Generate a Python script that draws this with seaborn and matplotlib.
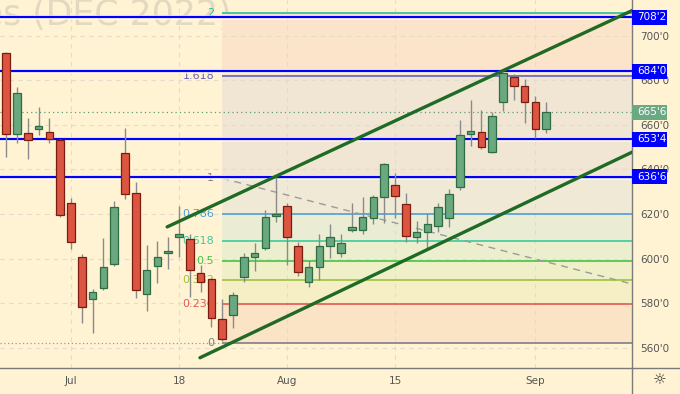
import numpy as np
import pandas as pd
import matplotlib
matplotlib.use("Agg")
import matplotlib.pyplot as plt
import seaborn as sns
from matplotlib.lines import Line2D
from matplotlib.patches import Rectangle

# ---------------- data ----------------
dates = ["Jun 23", "Jun 24", "Jun 27", "Jun 28", "Jun 29", "Jun 30",
         "Jul 1", "Jul 5", "Jul 6", "Jul 7", "Jul 8",
         "Jul 11", "Jul 12", "Jul 13", "Jul 14", "Jul 15",
         "Jul 18", "Jul 19", "Jul 20", "Jul 21", "Jul 22",
         "Jul 25", "Jul 26", "Jul 27", "Jul 28", "Jul 29",
         "Aug 1", "Aug 2", "Aug 3", "Aug 4", "Aug 5",
         "Aug 8", "Aug 9", "Aug 10", "Aug 11", "Aug 12",
         "Aug 15", "Aug 16", "Aug 17", "Aug 18", "Aug 19",
         "Aug 22", "Aug 23", "Aug 24", "Aug 25", "Aug 26",
         "Aug 29", "Aug 30", "Aug 31", "Sep 1", "Sep 2"]
opens = [692.0, 655.8, 656.3, 658.1, 656.7, 653.1,
         624.9, 600.7, 581.9, 586.9, 597.6,
         647.3, 629.4, 584.2, 596.7, 602.5,
         609.7, 608.8, 593.6, 590.9, 573.0,
         574.8, 591.8, 600.7, 604.8, 619.1,
         623.6, 605.7, 589.6, 596.3, 605.7,
         602.5, 612.8, 612.8, 618.2, 627.6,
         633.0, 624.5, 609.7, 611.9, 614.6,
         618.2, 632.1, 655.8, 656.7, 647.8,
         670.2, 681.3, 677.3, 670.2, 658.1]
highs = [692.5, 676.9, 663.0, 667.9, 663.0, 653.5,
         627.2, 602.1, 586.4, 609.3, 625.8,
         658.5, 634.3, 606.1, 607.9, 609.7,
         623.6, 611.0, 597.2, 591.3, 582.0,
         585.1, 602.5, 607.0, 621.8, 637.0,
         624.9, 607.5, 599.4, 611.0, 615.5,
         611.0, 624.9, 627.6, 628.5, 642.8,
         638.4, 629.4, 616.9, 620.4, 624.9,
         631.2, 662.1, 671.0, 666.6, 665.7,
         683.6, 682.7, 680.4, 672.8, 670.2]
lows = [645.5, 651.8, 644.6, 655.4, 651.8, 618.7,
        604.3, 571.2, 566.7, 586.0, 596.7,
        626.7, 582.4, 576.6, 589.1, 595.4,
        600.7, 582.8, 585.1, 569.4, 563.0,
        569.0, 589.6, 594.5, 603.9, 616.4,
        597.2, 592.2, 587.3, 590.4, 600.3,
        600.7, 611.9, 611.0, 615.5, 616.0,
        618.2, 607.5, 607.0, 603.9, 611.9,
        614.2, 630.7, 650.4, 649.1, 647.3,
        666.1, 671.0, 660.7, 654.0, 656.3]
closes = [655.8, 674.2, 653.1, 659.4, 653.6, 619.6,
          607.5, 578.4, 585.1, 596.3, 623.1,
          629.0, 586.0, 594.9, 600.7, 603.4,
          611.0, 594.9, 589.6, 573.4, 564.0,
          583.7, 600.7, 602.5, 618.7, 620.0,
          609.7, 594.0, 596.3, 605.7, 609.7,
          607.0, 614.2, 618.7, 627.6, 642.4,
          628.0, 610.1, 611.9, 615.5, 623.1,
          629.0, 655.4, 657.2, 650.0, 663.9,
          683.1, 677.3, 670.2, 658.1, 665.75]

xtick_dates = ["Jul 1", "Jul 18", "Aug 1", "Aug 15", "Sep 1"]
xtick_labels = ["Jul", "18", "Aug", "15", "Sep"]
ytick_values = [560, 580, 600, 620, 640, 660, 680, 700]
ytick_labels = ["560'0", "580'0", "600'0", "620'0", "640'0", "660'0", "680'0", "700'0"]

level_prices = [708.25, 684.0, 653.5, 636.75]
level_labels = ["708'2", "684'0", "653'4", "636'6"]
last_price = 665.75
last_label = "665'6"

fib_ratios = [0, 0.236, 0.382, 0.5, 0.618, 0.786, 1, 1.618, 2]
fib_texts = ["0", "0.236", "0.382", "0.5", "0.618", "0.786", "1", "1.618", "2"]
fib_low = 562.0
fib_high = 636.0
fib_start_date = "Jul 22"

upper_channel_x = [14.9, 58.5]
upper_channel_y = [614.2, 712.5]
lower_channel_x = [17.94, 58.5]
lower_channel_y = [555.5, 649.0]
fib_trend_x = [20.0, 57.94]
fib_trend_y = [636.0, 588.6]

watermark = "Corn Futures (DEC 2022)"

# ---------------- styling ----------------
BG = "#fff3d3"
sns.set_theme(style="white", rc={"axes.facecolor": BG, "figure.facecolor": BG})
plt.rcParams["font.family"] = ["DejaVu Sans"]

fig = plt.figure(figsize=(6.8, 3.94), dpi=100)
ax = fig.add_axes([0, 26 / 394, 632 / 680, 368 / 394])

xpos = np.arange(len(dates))
pos = {d: i for i, d in enumerate(dates)}
x0, x1 = -0.574, 57.94
ax.set_xlim(x0, x1)
ax.set_ylim(550.9, 716.0)

# grid
ax.set_xticks([pos[d] for d in xtick_dates], xtick_labels)
ax.set_yticks(ytick_values, ytick_labels)
ax.grid(True, color="#e2dccb", linestyle=(0, (4, 4)), linewidth=0.8, zorder=0)
ax.set_axisbelow(True)

# watermark
ax.text(232 / 632, (368 - 25) / 368, watermark, transform=ax.transAxes,
        ha="right", va="baseline", fontsize=25, color="#e2d9c0",
        zorder=0.3, clip_on=True)

# fib zones
fs = pos[fib_start_date]
fib_prices = [fib_low + r * (fib_high - fib_low) for r in fib_ratios]
zone_colors = ["#fbe3c6", "#f6efc6", "#eff0c8", "#ebefcd", "#eaecd4",
               "#efe9d5", "#f0e6d3", "#fbe4c9"]
for k in range(len(fib_prices) - 1):
    ax.fill_between([fs, x1 + 1], fib_prices[k], fib_prices[k + 1],
                    color=zone_colors[k], lw=0, zorder=0.4)
fib_colors = ["#7d7f88", "#e25a52", "#9dc23c", "#45c445", "#3ccb98",
              "#4f9fd6", "#7d7f88", "#6464b4", "#28bf98"]
for p, c, t in zip(fib_prices, fib_colors, fib_texts):
    ax.hlines(p, fs, x1 + 1, color=c, lw=1.2, zorder=1)
    ax.text(19.25, p, t, ha="right", va="center", fontsize=8, color=c, zorder=1.2)

# dotted lines
ax.hlines(fib_low, x0, fs, color="#9a9a9a", lw=0.9, linestyles=(0, (1, 2)), zorder=1)
ax.axhline(last_price, color="#5f9c74", lw=0.9, ls=(0, (1, 2.5)), zorder=1)

# fib trend dashed
sns.lineplot(x=fib_trend_x, y=fib_trend_y, ax=ax, color="#9b9b9b", lw=1.0,
             linestyle=(0, (5, 4)), zorder=1.5)

# blue levels
for p in level_prices:
    ax.axhline(p, color="#fffbe8", lw=3.4, alpha=0.8, zorder=2)
    ax.axhline(p, color="#0000ff", lw=1.6, zorder=2.1)

# candles
o = np.array(opens); c = np.array(closes); h = np.array(highs); l = np.array(lows)
up = c >= o
ax.vlines(xpos, l, h, color="#8a8a8a", lw=1.0, zorder=3)
body_lo = np.minimum(o, c)
body_h = np.maximum(np.abs(c - o), 0.9)
ax.bar(xpos[up], body_h[up], bottom=body_lo[up], width=0.7,
       color="#6aa880", edgecolor="#2f6b43", linewidth=0.9, zorder=4)
ax.bar(xpos[~up], body_h[~up], bottom=body_lo[~up], width=0.7,
       color="#dc5541", edgecolor="#7a1c10", linewidth=0.9, zorder=4)

# channel lines
sns.lineplot(x=upper_channel_x, y=upper_channel_y, ax=ax, color="#1f6a24", lw=2.4, zorder=5)
sns.lineplot(x=lower_channel_x, y=lower_channel_y, ax=ax, color="#1f6a24", lw=2.4, zorder=5)

# axes style
ax.yaxis.tick_right()
ax.tick_params(axis="y", length=0, pad=6, labelsize=7.5, labelcolor="#555555")
ax.tick_params(axis="x", length=0, pad=6, labelsize=7.5, labelcolor="#555555")
for s in ["top", "left"]:
    ax.spines[s].set_visible(False)
for s in ["bottom", "right"]:
    ax.spines[s].set_color("#7a7a7a")
    ax.spines[s].set_linewidth(1.0)
ax.set_xlabel("")
ax.set_ylabel("")

# price label boxes
ytr = ax.get_yaxis_transform()
box_h = 15 / 2.228
box_w = 35 / 632
for p, t in zip(level_prices, level_labels):
    ax.add_patch(Rectangle((1.0, p - box_h / 2), box_w, box_h, transform=ytr,
                           facecolor="#0000ff", edgecolor="none", clip_on=False, zorder=10))
    ax.text(651.5 / 632, p, t, transform=ytr, ha="center", va="center",
            fontsize=7.5, color="white", clip_on=False, zorder=11)
ax.add_patch(Rectangle((1.0, last_price - box_h / 2), box_w, box_h, transform=ytr,
                       facecolor="#6ba884", edgecolor="none", clip_on=False, zorder=10))
ax.text(651.5 / 632, last_price, last_label, transform=ytr, ha="center", va="center",
        fontsize=7.5, color="white", clip_on=False, zorder=11)

# extra frame lines in the axis area
fig.add_artist(Line2D([632 / 680, 632 / 680], [0, 26 / 394], color="#7a7a7a", lw=1.0))
fig.add_artist(Line2D([632 / 680, 1], [26 / 394, 26 / 394], color="#7a7a7a", lw=1.0))
fig.text(660 / 680, 1 - 380 / 394, "\u263c", ha="center", va="center",
         fontsize=11, color="#333333")

fig.savefig("out.png", dpi=100, facecolor=BG)
